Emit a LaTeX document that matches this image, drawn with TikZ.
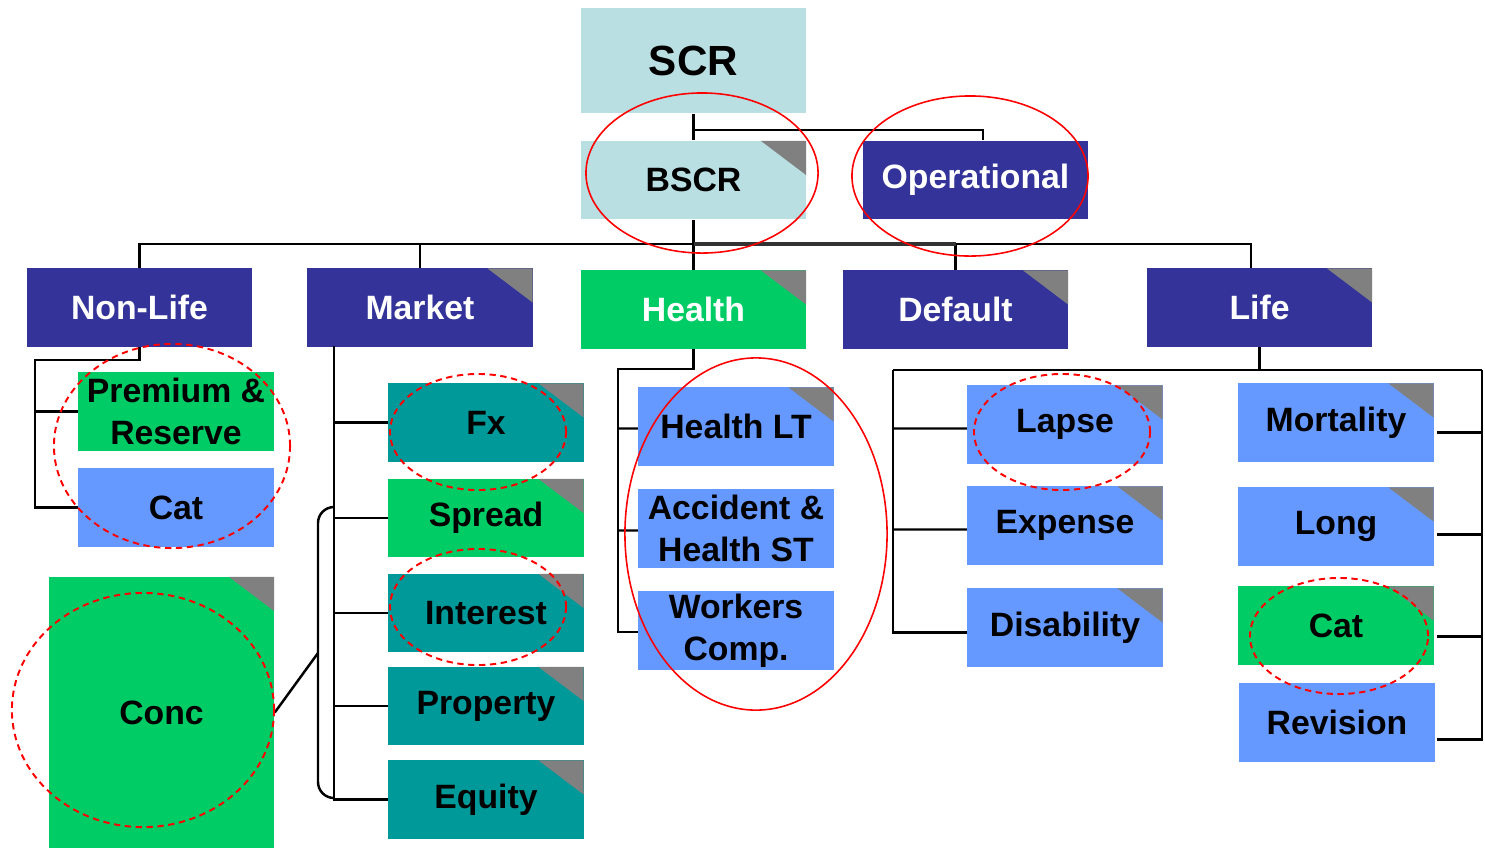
\documentclass[tikz,border=0pt]{standalone}
\usepackage{fontspec}
\setmainfont{Liberation Sans}
\definecolor{cNavy}{RGB}{51,51,153}
\definecolor{cPale}{RGB}{185,223,226}
\definecolor{cGreen}{RGB}{0,204,102}
\definecolor{cBlue}{RGB}{102,153,255}
\definecolor{cTeal}{RGB}{0,153,153}
\definecolor{cCorner}{RGB}{128,128,128}

\tikzset{
  box/.style={rectangle, inner sep=0pt, minimum width=2.25cm, minimum height=0.78cm,
    align=center, font=\bfseries\fontsize{9.6}{12}\selectfont},
  subbox/.style={box, minimum width=1.95cm},
  navybox/.style={fill=cNavy, text=white},
  palebox/.style={fill=cPale},
  greenbox/.style={fill=cGreen},
  bluebox/.style={fill=cBlue},
  tealbox/.style={fill=cTeal},
  corner/.style={path picture={\fill[cCorner] (path picture bounding box.north east)
    -- ++(-0.45cm,0) -- ++(0.45cm,-0.34cm) -- cycle;}},
  link/.style={draw=black, line width=0.7pt},
  solidring/.style={draw=red, line width=0.45pt},
  dashring/.style={draw=red, line width=0.55pt, dash pattern=on 1.8pt off 1.3pt}
}

\begin{document}
\begin{tikzpicture}[x=0.01cm, y=-0.01cm]
  \useasboundingbox (0,0) rectangle (1485,848);

  % top levels
  \node[box, palebox, minimum height=1.05cm, font=\bfseries\fontsize{12}{14}\selectfont] (scr) at (693.5,60.5) {SCR};
  \node[box, palebox, corner] (bscr) at (693.5,180) {BSCR};
  \node[box, navybox] (oper) at (975.5,180) {Operational};

  \node[box, navybox] (nonlife) at (139.5,307.5) {Non-Life};
  \node[box, navybox, corner] (market) at (420,307.5) {Market};
  \node[box, greenbox, text=white, corner] (health) at (693.5,309.5) {Health};
  \node[box, navybox, corner] (default) at (955.5,309.5) {Default};
  \node[box, navybox, corner] (life) at (1259.5,307.5) {Life};

  % non-life
  \node[subbox, greenbox] (prem) at (176,411.5) {Premium \&\\Reserve};
  \node[subbox, bluebox] (nlcat) at (176,507.5) {Cat};
  \node[box, greenbox, corner, minimum height=2.71cm] (conc) at (161.5,712.5) {Conc};

  % market
  \node[subbox, tealbox, corner] (fx) at (486,422.5) {Fx};
  \node[subbox, greenbox, corner] (spread) at (486,518) {Spread};
  \node[subbox, tealbox, corner] (interest) at (486,613) {Interest};
  \node[subbox, tealbox, corner] (property) at (486,706) {Property};
  \node[subbox, tealbox, corner] (equity) at (486,799.5) {Equity};

  % health
  \node[subbox, bluebox, corner] (hlt) at (736,426.5) {Health LT};
  \node[subbox, bluebox] (hst) at (736,528.5) {Accident \&\\Health ST};
  \node[subbox, bluebox] (workers) at (736,630.5) {Workers\\Comp.};

  % life, left column
  \node[subbox, bluebox, corner] (lapse) at (1065,424.5) {Lapse};
  \node[subbox, bluebox, corner] (expense) at (1065,525.5) {Expense};
  \node[subbox, bluebox, corner] (disab) at (1065,627.5) {Disability};

  % life, right column
  \node[subbox, bluebox, corner] (mort) at (1336,422.5) {Mortality};
  \node[subbox, bluebox, corner] (long) at (1336,526.5) {Long};
  \node[subbox, greenbox, corner] (lcat) at (1336,625.5) {Cat};
  \node[subbox, bluebox] (revision) at (1337,722.5) {Revision};

  % connectors
  \coordinate (opbus) at (693.5,130);
  \draw[link] (scr) -- (bscr);
  \draw[link] (opbus) -| ([xshift=0.075cm]oper.north);

  \coordinate (bus) at (693.5,244);
  \draw[link] (bscr) -- (bus);
  \foreach \n in {nonlife,market,health}
    \draw[link] (bus) -| (\n.north);
  \draw[link] (bus) -| ([xshift=-0.085cm]life.north);
  \draw[link] (bus) -| (default.north);
  \draw[line width=1.4pt, black!80] (bus) -- (bus -| default.north);

  \coordinate (nlbus) at (35,360);
  \draw[link] (nonlife.south) |- (nlbus) |- (nlcat.west);
  \draw[link] (nlbus |- prem.west) -- (prem.west);

  \coordinate (mkbus) at (334,346);
  \draw[link] (mkbus) |- (equity.west);
  \foreach \n in {fx,spread,interest,property}
    \draw[link] (mkbus |- \n.west) -- (\n.west);
  \coordinate (brtop) at (334,507);
  \coordinate (brbot) at (334,798);
  \coordinate (brmid) at (318,653);
  \draw[link, rounded corners=0.16cm] (brtop) -| (318,798) -- (brbot);
  \draw[link] (conc.east) -- (brmid);

  \coordinate (hbus) at (618,369);
  \draw[link] (health.south) |- (hbus) |- ([yshift=-0.015cm]workers.west);
  \foreach \n in {hlt,hst}
    \draw[link] (hbus |- \n.west) ++(0,2) -- ([yshift=-0.02cm]\n.west);

  \coordinate (lbusl) at (893,370);
  \coordinate (lbusr) at (1482,370);
  \draw[link] (life.south) -- (life.south |- lbusl);
  \draw[link] (lbusl) -- (lbusr);
  \draw[link] (lbusl) |- ([yshift=-0.05cm]disab.west);
  \foreach \n in {lapse,expense}
    \draw[link] (lbusl |- \n.west) ++(0,4) -- ([yshift=-0.04cm]\n.west);
  \draw[link] (lbusr) |- ([xshift=0.02cm, yshift=-0.17cm]revision.east);
  \foreach \n/\dy in {mort/10,long/8,lcat/11}
    \draw[link] (lbusr |- \n.east) ++(0,\dy) -- ++(-45,0);

  % red rings
  \draw[solidring] (702,173) ellipse [x radius=1.16cm, y radius=0.80cm];
  \draw[solidring] (970,176) ellipse [x radius=1.18cm, y radius=0.80cm];
  \draw[solidring] (756,534) ellipse [x radius=1.31cm, y radius=1.76cm];
  \draw[dashring] (172,446) ellipse [x radius=1.18cm, y radius=1.02cm];
  \draw[dashring] (143,710) ellipse [x radius=1.31cm, y radius=1.17cm];
  \draw[dashring] (478,432) ellipse [x radius=0.88cm, y radius=0.58cm];
  \draw[dashring] (478,607) ellipse [x radius=0.88cm, y radius=0.58cm];
  \draw[dashring] (1062,432) ellipse [x radius=0.88cm, y radius=0.58cm];
  \draw[dashring] (1339,636) ellipse [x radius=0.89cm, y radius=0.58cm];
\end{tikzpicture}
\end{document}
